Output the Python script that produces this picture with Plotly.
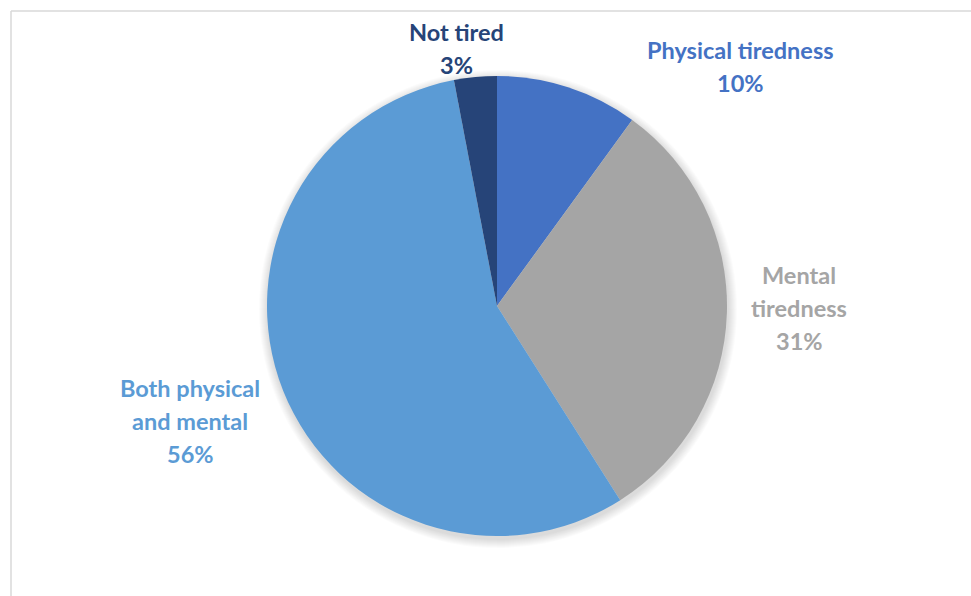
import plotly.graph_objects as go

# Share of respondents by type of tiredness (clockwise from 12 o'clock)
categories = ["Physical tiredness", "Mental tiredness", "Both physical and mental", "Not tired"]
shares = [10, 31, 56, 3]
label_lines = [["Physical tiredness"], ["Mental", "tiredness"], ["Both physical", "and mental"], ["Not tired"]]
colors = ["#4472C4", "#A5A5A5", "#5B9BD5", "#264478"]

W, H = 971, 596
cx, cy, r = 497, 306, 230  # pie centre and radius in pixels

fig = go.Figure(
    go.Pie(
        labels=categories,
        values=shares,
        sort=False,
        direction="clockwise",
        rotation=0,
        marker=dict(colors=colors, line=dict(width=0)),
        textinfo="none",
        hoverinfo="label+percent",
        showlegend=False,
        domain=dict(
            x=[(cx - r) / W, (cx + r) / W],
            y=[(H - cy - r) / H, (H - cy + r) / H],
        ),
    )
)

# label block placement: (centre x, centre y of first line) in pixels, line step
label_pos = [(740, 50), (799, 275), (190, 388), (456, 32)]
line_step = 33

annotations = []
for cat_lines, share, color, (lx, ly) in zip(label_lines, shares, colors, label_pos):
    lines = cat_lines + [f"{share}%"]
    for i, txt in enumerate(lines):
        annotations.append(
            dict(
                x=lx / W,
                y=1 - (ly + i * line_step) / H,
                xref="paper",
                yref="paper",
                text=f"<b>{txt}</b>",
                showarrow=False,
                xanchor="center",
                yanchor="middle",
                font=dict(family="Lato", size=23.5, color=color),
            )
        )

# chart frame (top and left edges visible)
shapes = [
    dict(type="line", xref="paper", yref="paper",
         x0=11 / W, x1=1.0, y0=1 - 11 / H, y1=1 - 11 / H,
         line=dict(color="#D9D9D9", width=1.5)),
    dict(type="line", xref="paper", yref="paper",
         x0=11 / W, x1=11 / W, y0=0, y1=1 - 11 / H,
         line=dict(color="#D9D9D9", width=1.5)),
]

# soft drop shadow under the pie
for k in range(1, 10):
    rr = r + k * 1.0
    ox, oy = 1, 3
    shapes.append(
        dict(type="circle", xref="paper", yref="paper", layer="below",
             x0=(cx + ox - rr) / W, x1=(cx + ox + rr) / W,
             y0=1 - (cy + oy + rr) / H, y1=1 - (cy + oy - rr) / H,
             fillcolor="rgba(0,0,0,0.014)", line=dict(width=0))
    )

fig.update_layout(
    width=W,
    height=H,
    margin=dict(l=0, r=0, t=0, b=0),
    paper_bgcolor="white",
    plot_bgcolor="white",
    annotations=annotations,
    shapes=shapes,
)

fig.write_html("out.html")
